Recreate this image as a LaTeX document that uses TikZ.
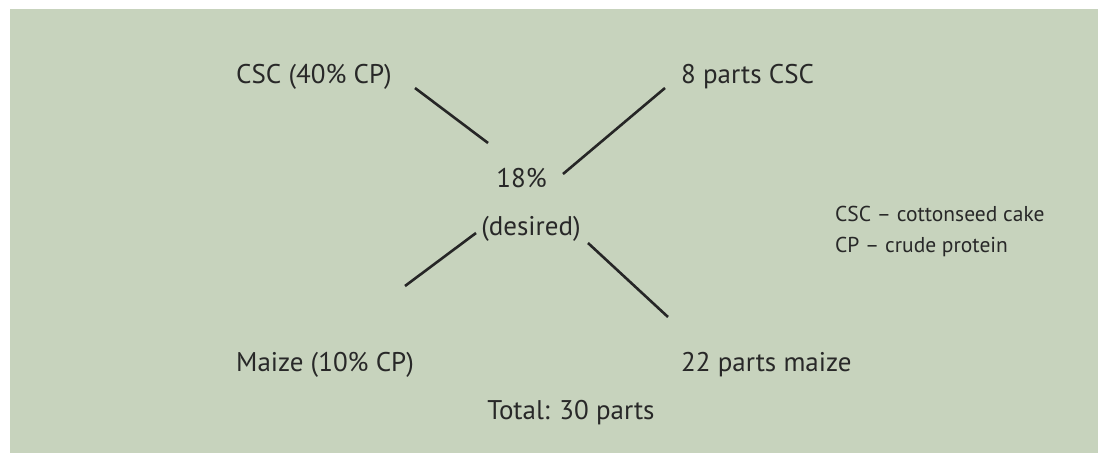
\documentclass[tikz,border=0pt]{standalone}
\usepackage{fontspec}
\setmainfont{PT Sans}
\definecolor{panelgreen}{RGB}{199,211,189}
\definecolor{inkgray}{RGB}{40,40,40}
\tikzset{
  lbl/.style={inner sep=0pt, anchor=base west, text=inkgray, font=\fontsize{27}{31}\selectfont},
  legend/.style={inner sep=0pt, anchor=base west, text=inkgray, font=\fontsize{21.5}{25}\selectfont},
  cross/.style={line width=2.6pt, black!85}
}
\begin{document}
\begin{tikzpicture}[x=1pt,y=-1pt]
\useasboundingbox (0,0) rectangle (1098,453);
\fill[white] (0,0) rectangle (1098,453);
\fill[panelgreen] (10,9) rectangle (1098,453);

% Pearson square labels
\node[lbl] (csc)   at (236,83)  {CSC (40\% CP)};
\node[lbl] (pcsc)  at (681,83)  {8 parts CSC};
\node[lbl] (maize) at (236,371) {Maize (10\% CP)};
\node[lbl] (pmz)   at (681,371) {22 parts maize};
\node[lbl, anchor=base] (pct) at (521.5,187) {18\%};
\node[lbl, anchor=base] (des) at (531,235) {(desired)};
\node[lbl, anchor=base] (tot) at (571,419) {Total: 30 parts};

% legend
\node[legend] (lg1) at (835,221) {CSC – cottonseed cake};
\node[legend] (lg2) at (835,252) {CP – crude protein};

% cross lines
\coordinate (a1) at (415,88);  \coordinate (a2) at (488,143);
\coordinate (b1) at (665,88);  \coordinate (b2) at (563,174);
\coordinate (c1) at (476,233); \coordinate (c2) at (405,286);
\coordinate (d1) at (588,243); \coordinate (d2) at (668,317);
\draw[cross] (a1) -- (a2);
\draw[cross] (b1) -- (b2);
\draw[cross] (c1) -- (c2);
\draw[cross] (d1) -- (d2);
\end{tikzpicture}
\end{document}
